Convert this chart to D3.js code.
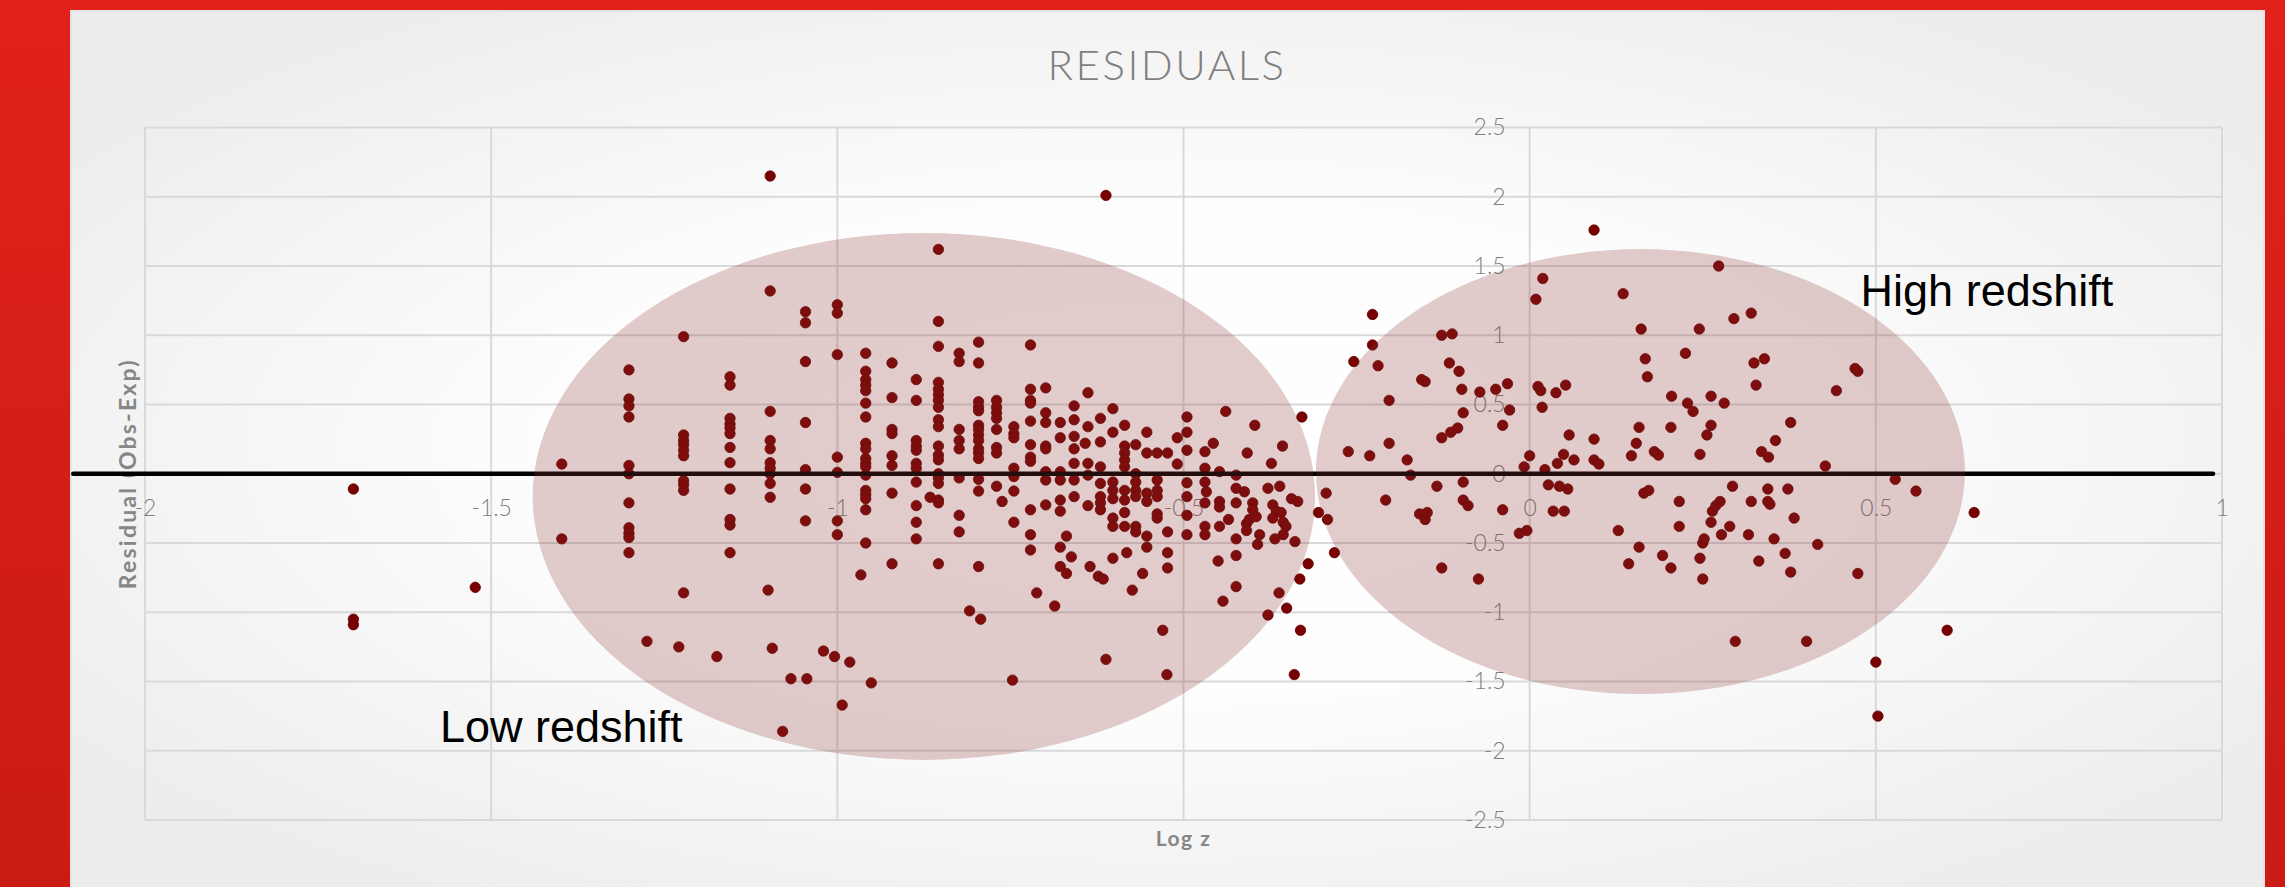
<!DOCTYPE html>
<html>
<head>
<meta charset="utf-8" />
<script src="https://d3js.org/d3.v7.min.js"></script>
<style>
    html, body { margin: 0; padding: 0; overflow: hidden; background: #d81e18; }
    svg { display: block; }
</style>
</head>
<body>
<div id="visu"></div>
<script>

// Axis ticks
const xTicks = [-2, -1.5, -1, -0.5, 0, 0.5, 1];
const yTicks = [2.5, 2, 1.5, 1, 0.5, 0, -0.5, -1, -1.5, -2, -2.5];

// Points [log z, residual], low redshift side
const lowRedshift = [
    [-1.699, -0.11], [-1.699, -1.05], [-1.699, -1.09], [-1.523, -0.82],
    [-1.398, 0.07], [-1.398, -0.47],
    [-1.301, 0.75], [-1.301, 0.54], [-1.301, 0.49], [-1.301, 0.41], [-1.301, 0.06], [-1.301, 0.0], [-1.301, -0.21],
    [-1.301, -0.39], [-1.301, -0.43], [-1.301, -0.46], [-1.301, -0.57], [-1.275, -1.21],
    [-1.222, 0.99], [-1.222, 0.28], [-1.222, 0.24], [-1.222, 0.21], [-1.222, 0.17], [-1.222, 0.13], [-1.222, -0.05],
    [-1.222, -0.08], [-1.222, -0.12], [-1.222, -0.86], [-1.229, -1.25],
    [-1.155, 0.70], [-1.155, 0.64], [-1.155, 0.40], [-1.155, 0.36], [-1.155, 0.33], [-1.155, 0.29], [-1.155, 0.19],
    [-1.155, 0.08], [-1.155, -0.11], [-1.155, -0.33], [-1.155, -0.37], [-1.155, -0.57], [-1.174, -1.32],
    [-1.097, 2.15], [-1.097, 1.32], [-1.097, 0.45], [-1.097, 0.24], [-1.097, 0.18], [-1.097, 0.08], [-1.097, 0.04],
    [-1.097, 0.0], [-1.097, -0.07], [-1.097, -0.17], [-1.100, -0.84], [-1.094, -1.26], [-1.079, -1.86], [-1.067, -1.48],
    [-1.046, 1.17], [-1.046, 1.09], [-1.046, 0.81], [-1.046, 0.37], [-1.046, 0.03], [-1.046, -0.11], [-1.046, -0.34],
    [-1.044, -1.48],
    [-1.0, 1.22], [-1.0, 1.16], [-1.0, 0.86], [-1.0, 0.12], [-1.0, 0.01], [-1.0, -0.34], [-1.0, -0.44],
    [-1.02, -1.28], [-1.004, -1.32], [-0.993, -1.67], [-0.982, -1.36],
    [-0.959, 0.87], [-0.959, 0.74], [-0.959, 0.68], [-0.959, 0.64], [-0.959, 0.60], [-0.959, 0.51], [-0.959, 0.41],
    [-0.959, 0.22], [-0.959, 0.18], [-0.959, 0.11], [-0.959, 0.075], [-0.959, 0.05], [-0.959, -0.01], [-0.959, -0.12],
    [-0.959, -0.15], [-0.959, -0.18], [-0.959, -0.26], [-0.959, -0.50], [-0.966, -0.73], [-0.951, -1.51],
    [-0.921, 0.80], [-0.921, 0.55], [-0.921, 0.32], [-0.921, 0.29], [-0.921, 0.13], [-0.921, 0.06], [-0.921, -0.14],
    [-0.921, -0.65],
    [-0.886, 0.68], [-0.886, 0.53], [-0.886, 0.24], [-0.886, 0.20], [-0.886, 0.17], [-0.886, 0.075], [-0.886, 0.04],
    [-0.886, -0.06], [-0.886, -0.23], [-0.886, -0.35], [-0.886, -0.47],
    [-0.854, 1.62], [-0.854, 1.10], [-0.854, 0.92], [-0.854, 0.66], [-0.854, 0.61], [-0.854, 0.57], [-0.854, 0.53],
    [-0.854, 0.48], [-0.854, 0.39], [-0.854, 0.34], [-0.854, 0.20], [-0.854, 0.135], [-0.854, 0.10], [-0.854, 0.0],
    [-0.854, -0.03], [-0.854, -0.07], [-0.854, -0.19], [-0.854, -0.21], [-0.854, -0.65], [-0.866, -0.17],
    [-0.824, 0.87], [-0.824, 0.81], [-0.824, 0.32], [-0.824, 0.24], [-0.824, 0.18], [-0.824, -0.03], [-0.824, -0.30],
    [-0.824, -0.42],
    [-0.796, 0.95], [-0.796, 0.80], [-0.796, 0.52], [-0.796, 0.48], [-0.796, 0.455], [-0.796, 0.35], [-0.796, 0.32],
    [-0.796, 0.28], [-0.796, 0.24], [-0.796, 0.18], [-0.796, 0.15], [-0.796, 0.11], [-0.796, -0.04], [-0.796, -0.125],
    [-0.796, -0.67], [-0.809, -0.99], [-0.793, -1.05],
    [-0.770, 0.53], [-0.770, 0.48], [-0.770, 0.44], [-0.770, 0.40], [-0.770, 0.32], [-0.770, 0.19], [-0.770, 0.15],
    [-0.770, -0.09], [-0.762, -0.20],
    [-0.745, 0.34], [-0.745, 0.29], [-0.745, 0.26], [-0.745, 0.04], [-0.745, -0.02], [-0.745, -0.125], [-0.745, -0.35],
    [-0.747, -1.49],
    [-0.721, 0.93], [-0.721, 0.61], [-0.721, 0.53], [-0.721, 0.51], [-0.721, 0.38], [-0.721, 0.21], [-0.721, 0.12],
    [-0.721, 0.09], [-0.721, -0.26], [-0.721, -0.44], [-0.721, -0.55], [-0.712, -0.86],
    [-0.699, 0.62], [-0.699, 0.44], [-0.699, 0.37], [-0.699, 0.20], [-0.699, 0.18], [-0.699, 0.015], [-0.699, -0.045],
    [-0.699, -0.225],
    [-0.678, 0.37], [-0.678, 0.26], [-0.678, 0.015], [-0.678, -0.045], [-0.678, -0.19], [-0.678, -0.27], [-0.678, -0.53],
    [-0.678, -0.67], [-0.686, -0.955],
    [-0.658, 0.49], [-0.658, 0.39], [-0.658, 0.27], [-0.658, 0.18], [-0.658, 0.075], [-0.658, -0.045], [-0.658, -0.165],
    [-0.669, -0.45], [-0.662, -0.60], [-0.669, -0.72],
    [-0.638, 0.585], [-0.638, 0.34], [-0.642, 0.22], [-0.638, 0.075], [-0.638, -0.01], [-0.638, -0.23], [-0.635, -0.67],
    [-0.620, 0.40], [-0.620, 0.23], [-0.620, 0.05], [-0.620, -0.07], [-0.620, -0.165], [-0.620, -0.21], [-0.620, -0.26],
    [-0.623, -0.74], [-0.616, -0.76],
    [-0.612, 2.01], [-0.612, -1.34],
    [-0.602, 0.47], [-0.602, 0.30], [-0.602, -0.06], [-0.602, -0.12], [-0.602, -0.18], [-0.602, -0.32], [-0.602, -0.38],
    [-0.602, -0.61],
    [-0.585, 0.35], [-0.585, 0.20], [-0.585, 0.15], [-0.585, 0.10], [-0.585, 0.05], [-0.585, -0.12], [-0.585, -0.19],
    [-0.585, -0.28], [-0.585, -0.38], [-0.582, -0.57], [-0.574, -0.84],
    [-0.569, 0.21], [-0.569, 0.0], [-0.569, -0.06], [-0.569, -0.12], [-0.569, -0.165], [-0.569, -0.38], [-0.569, -0.42],
    [-0.553, 0.30], [-0.553, 0.15], [-0.553, -0.14], [-0.553, -0.20], [-0.553, -0.45], [-0.553, -0.53], [-0.559, -0.72],
    [-0.538, 0.15], [-0.538, -0.045], [-0.538, -0.12], [-0.538, -0.165], [-0.538, -0.29], [-0.538, -0.32], [-0.530, -1.13],
    [-0.523, 0.15], [-0.523, -0.42], [-0.523, -0.57], [-0.523, -0.68], [-0.524, -1.45],
    [-0.509, 0.26], [-0.509, 0.07],
    [-0.495, 0.41], [-0.495, 0.30], [-0.495, 0.17], [-0.495, -0.065], [-0.495, -0.165], [-0.495, -0.30], [-0.495, -0.44],
    [-0.469, 0.16], [-0.469, 0.04], [-0.469, -0.06], [-0.467, -0.13], [-0.469, -0.21], [-0.469, -0.38], [-0.469, -0.44],
    [-0.457, 0.22],
    [-0.448, 0.015], [-0.448, -0.20], [-0.448, -0.24], [-0.448, -0.38], [-0.450, -0.63], [-0.443, -0.92], [-0.439, 0.45],
    [-0.424, -0.01], [-0.424, -0.105], [-0.424, -0.21], [-0.424, -0.47], [-0.424, -0.59], [-0.424, -0.815], [-0.435, -0.33],
    [-0.408, 0.15], [-0.412, -0.13], [-0.400, -0.21], [-0.400, -0.26], [-0.409, -0.36], [-0.409, -0.41], [-0.405, -0.33],
    [-0.395, -0.31], [-0.393, -0.51], [-0.390, -0.44],
    [-0.397, 0.35], [-0.373, 0.075], [-0.378, -0.105], [-0.361, -0.09], [-0.371, -0.225], [-0.366, -0.27], [-0.371, -0.32],
    [-0.359, -0.28], [-0.356, -0.35], [-0.352, -0.38], [-0.356, -0.44], [-0.368, -0.47], [-0.339, -0.49], [-0.378, -1.02],
    [-0.362, -0.86], [-0.351, -0.97], [-0.332, -0.76], [-0.320, -0.65],
    [-0.357, 0.20], [-0.344, -0.18], [-0.335, -0.20], [-0.331, -1.13], [-0.340, -1.45]
];

// Points [log z, residual], high redshift side
const highRedshift = [
    [-0.329, 0.41], [-0.305, -0.28], [-0.294, -0.14], [-0.292, -0.33], [-0.282, -0.57],
    [-0.262, 0.16], [-0.254, 0.81], [-0.231, 0.13], [-0.227, 1.15], [-0.227, 0.93], [-0.219, 0.78], [-0.208, -0.19],
    [-0.203, 0.53], [-0.203, 0.22], [-0.177, 0.10], [-0.172, -0.01],
    [-0.159, -0.29], [-0.156, 0.68], [-0.151, 0.665], [-0.151, -0.33], [-0.148, -0.28], [-0.134, -0.09], [-0.127, 1.0],
    [-0.127, 0.26], [-0.127, -0.68], [-0.116, 0.80], [-0.114, 0.30], [-0.112, 1.01], [-0.104, 0.33], [-0.102, 0.74],
    [-0.098, 0.61], [-0.096, 0.44], [-0.096, -0.06], [-0.096, -0.19], [-0.089, -0.23], [-0.074, -0.76], [-0.072, 0.59],
    [-0.049, 0.61], [-0.039, 0.35], [-0.039, -0.26], [-0.032, 0.65], [-0.029, 0.46], [-0.015, -0.43], [-0.004, -0.41],
    [-0.008, 0.05], [0.0, 0.13],
    [0.009, 1.26], [0.019, 1.41], [0.012, 0.63], [0.016, 0.60], [0.018, 0.48], [0.022, 0.03], [0.027, -0.08],
    [0.034, -0.27], [0.038, 0.585], [0.040, 0.075], [0.043, -0.09], [0.049, 0.14], [0.050, -0.27], [0.052, 0.64],
    [0.055, -0.11], [0.057, 0.28], [0.064, 0.10], [0.093, 1.76], [0.093, 0.25], [0.093, 0.10], [0.100, 0.07],
    [0.128, -0.41], [0.135, 1.30], [0.143, -0.65], [0.147, 0.13], [0.154, 0.22], [0.158, 0.335], [0.158, -0.53],
    [0.161, 1.045], [0.165, -0.14], [0.167, 0.83], [0.170, 0.70], [0.172, -0.12], [0.180, 0.16], [0.186, 0.135],
    [0.192, -0.59], [0.204, 0.335], [0.204, -0.68], [0.205, 0.56], [0.216, -0.20], [0.216, -0.38], [0.225, 0.87],
    [0.228, 0.51], [0.236, 0.45], [0.245, 1.045], [0.246, 0.14], [0.246, -0.61], [0.250, -0.50], [0.252, -0.47],
    [0.250, -0.76], [0.256, 0.28], [0.262, 0.56], [0.262, 0.35], [0.262, -0.35], [0.264, -0.27], [0.269, -0.23],
    [0.273, 1.50], [0.275, -0.20], [0.277, -0.44], [0.281, 0.51], [0.289, -0.38], [0.293, -0.09], [0.295, 1.12],
    [0.297, -1.21], [0.316, -0.44], [0.320, 1.16], [0.320, -0.20], [0.324, 0.80], [0.327, 0.64], [0.331, -0.63],
    [0.335, 0.16], [0.339, 0.83], [0.344, -0.11], [0.344, -0.20], [0.345, 0.12], [0.347, -0.22], [0.353, -0.47],
    [0.355, 0.24], [0.369, -0.575], [0.373, -0.11], [0.377, 0.37], [0.377, -0.71], [0.382, -0.32], [0.400, -1.21],
    [0.416, -0.51], [0.427, 0.056], [0.443, 0.60], [0.470, 0.76], [0.474, 0.74], [0.474, -0.72], [0.500, -1.36],
    [0.503, -1.75], [0.528, -0.04], [0.558, -0.125], [0.603, -1.13], [0.642, -0.28]
];

// Page size
const largeur = 2285;
const hauteur = 887;

// White panel inside the red frame, and the plot area
const panneau = {x: 71, y: 11, droite: 2264, bas: 892};
const plot = {gauche: 145, droite: 2222, haut: 127.5, bas: 820};

const svg = d3.select('#visu')
    .append('svg')
    .attr('width', largeur)
    .attr('height', hauteur);

// Gradients for frame and panel
const defs = svg.append('defs');
const rouge = defs.append('linearGradient').attr('id', 'rouge')
    .attr('x1', 0).attr('y1', 0).attr('x2', 0).attr('y2', 1);
rouge.append('stop').attr('offset', '0%').attr('stop-color', '#e1211b');
rouge.append('stop').attr('offset', '100%').attr('stop-color', '#ca1b15');

const fond = defs.append('radialGradient').attr('id', 'fond')
    .attr('cx', '50%').attr('cy', '50%').attr('r', '62%');
fond.append('stop').attr('offset', '0%').attr('stop-color', '#ffffff');
fond.append('stop').attr('offset', '45%').attr('stop-color', '#fdfdfd');
fond.append('stop').attr('offset', '100%').attr('stop-color', '#ececec');

svg.append('rect')
    .attr('width', largeur).attr('height', hauteur)
    .attr('fill', 'url(#rouge)');

svg.append('rect')
    .attr('x', panneau.x).attr('y', panneau.y)
    .attr('width', panneau.droite - panneau.x)
    .attr('height', panneau.bas - panneau.y)
    .attr('fill', 'url(#fond)')
    .attr('stroke', '#e4e4e4')
    .attr('stroke-width', 2);

// Scales
const x = d3.scaleLinear().domain([-2, 1]).range([plot.gauche, plot.droite]);
const y = d3.scaleLinear().domain([-2.5, 2.5]).range([plot.bas, plot.haut]);

const fmt = d => String(d);

// Gridlines
svg.append('g')
    .selectAll('line')
    .data(xTicks)
    .join('line')
    .attr('x1', d => x(d)).attr('x2', d => x(d))
    .attr('y1', plot.haut).attr('y2', plot.bas)
    .attr('stroke', '#d9d9d9').attr('stroke-width', 2);

svg.append('g')
    .selectAll('line')
    .data(yTicks)
    .join('line')
    .attr('x1', plot.gauche).attr('x2', plot.droite)
    .attr('y1', d => y(d)).attr('y2', d => y(d))
    .attr('stroke', '#d9d9d9').attr('stroke-width', 2);

// Axes cross at zero, labels only
const axeY = svg.append('g')
    .attr('transform', `translate(${x(0)}, 0)`)
    .call(d3.axisLeft(y).tickValues(yTicks).tickSize(0).tickPadding(24).tickFormat(fmt));

const axeX = svg.append('g')
    .attr('transform', `translate(0, ${y(0)})`)
    .call(d3.axisBottom(x).tickValues(xTicks).tickSize(0).tickPadding(26).tickFormat(fmt));

[axeX, axeY].forEach(g => {
    g.select('.domain').remove();
    g.selectAll('text')
        .attr('fill', '#7f7f7f')
        .style('font-family', 'Lato, "Open Sans", sans-serif')
        .style('font-weight', 300)
        .style('font-size', '23px');
});

// Title and axis titles
svg.append('text')
    .attr('x', 1167).attr('y', 80)
    .attr('text-anchor', 'middle')
    .attr('fill', '#7f7f7f')
    .style('font-family', 'Lato, sans-serif')
    .style('font-weight', 300)
    .style('font-size', '42px')
    .style('letter-spacing', '2.5px')
    .text('RESIDUALS');

svg.append('text')
    .attr('transform', `translate(136, ${(plot.haut + plot.bas) / 2}) rotate(-90)`)
    .attr('text-anchor', 'middle')
    .attr('fill', '#868686')
    .style('font-family', 'Lato, sans-serif')
    .style('font-weight', 700)
    .style('font-size', '23px')
    .style('letter-spacing', '2.2px')
    .text('Residual (Obs-Exp)');

svg.append('text')
    .attr('x', (plot.gauche + plot.droite) / 2).attr('y', 846)
    .attr('text-anchor', 'middle')
    .attr('fill', '#868686')
    .style('font-family', 'Lato, sans-serif')
    .style('font-weight', 700)
    .style('font-size', '21px')
    .style('letter-spacing', '1.5px')
    .text('Log z');

// Points
const points = lowRedshift.concat(highRedshift);
svg.append('g')
    .selectAll('circle')
    .data(points)
    .join('circle')
    .attr('cx', d => x(d[0]))
    .attr('cy', d => y(d[1]))
    .attr('r', 5.2)
    .attr('fill', '#790000')
    .attr('stroke', '#5e0000')
    .attr('stroke-width', 0.8);

// Black line drawn on the slide at residual 0
svg.append('line')
    .attr('x1', panneau.x + 2.3).attr('x2', x(0.987))
    .attr('y1', y(0)).attr('y2', y(0))
    .attr('stroke', '#000')
    .attr('stroke-width', 4.6)
    .attr('stroke-linecap', 'round');

// Transparent ellipses around the two groups
const zones = [
    {cx: -0.875, cy: -0.164, rx: 0.565, ry: 1.902},
    {cx: 0.160, cy: 0.016, rx: 0.4687, ry: 1.606}
];
svg.append('g')
    .selectAll('ellipse')
    .data(zones)
    .join('ellipse')
    .attr('cx', d => x(d.cx))
    .attr('cy', d => y(d.cy))
    .attr('rx', d => x(d.rx) - x(0))
    .attr('ry', d => y(0) - y(d.ry))
    .attr('fill', 'rgb(142, 50, 50)')
    .attr('fill-opacity', 0.25);

// Labels of the two groups
const etiquettes = [
    {texte: 'Low redshift', px: -1.574, py: -1.935},
    {texte: 'High redshift', px: 0.478, py: 1.212}
];
svg.append('g')
    .selectAll('text')
    .data(etiquettes)
    .join('text')
    .attr('x', d => x(d.px))
    .attr('y', d => y(d.py))
    .attr('fill', '#000')
    .style('font-family', '"Liberation Sans", Arial, sans-serif')
    .style('font-size', '45px')
    .text(d => d.texte);

</script>
</body>
</html>
